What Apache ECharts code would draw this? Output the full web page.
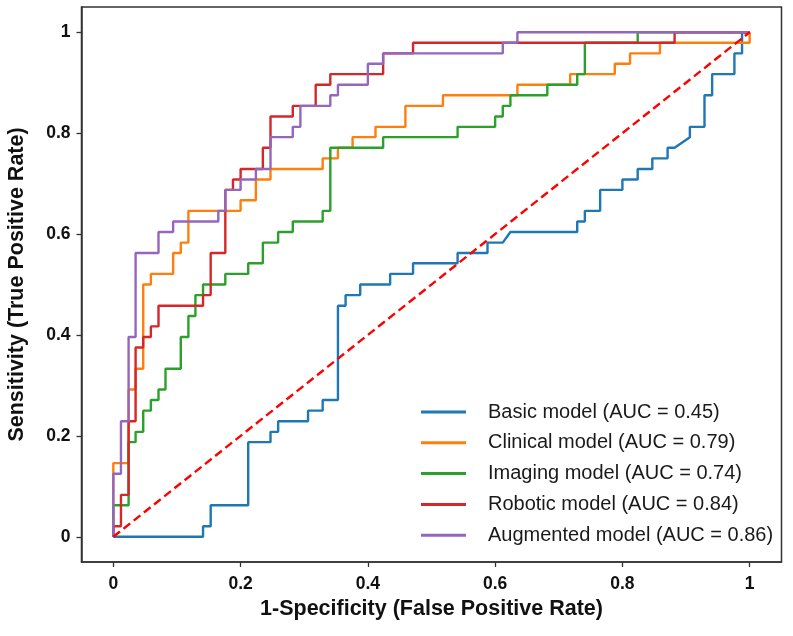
<!DOCTYPE html>
<html>
<head>
<meta charset="utf-8">
<script src="https://cdn.jsdelivr.net/npm/echarts@6/dist/echarts.min.js"></script>
<style>html,body{margin:0;padding:0;background:#fff;}#c{width:793px;height:636px;}</style>
</head>
<body>
<div id="c"></div>
<script>
const seriesNames = ['Basic model (AUC = 0.45)','Clinical model (AUC = 0.79)','Imaging model (AUC = 0.74)','Robotic model (AUC = 0.84)','Augmented model (AUC = 0.86)'];
const seriesColors = ['#1f77b4','#ff7f0e','#2ca02c','#d62728','#9467bd'];
const xTicks = [0,0.2,0.4,0.6,0.8,1];
const yTicks = [0,0.2,0.4,0.6,0.8,1];

const basicFpr = [0,0.141,0.141,0.153,0.153,0.212,0.212,0.247,0.247,0.259,0.259,0.306,0.306,0.329,0.329,0.353,0.353,0.365,0.365,0.388,0.388,0.435,0.435,0.471,0.471,0.541,0.541,0.588,0.588,0.612,0.624,0.729,0.729,0.741,0.741,0.765,0.765,0.8,0.8,0.824,0.824,0.847,0.847,0.871,0.871,0.882,0.906,0.906,0.929,0.929,0.941,0.941,0.976,0.976,0.988,0.988,1];
const basicTpr = [0,0,0.021,0.021,0.0625,0.0625,0.1875,0.1875,0.208,0.208,0.229,0.229,0.25,0.25,0.271,0.271,0.458,0.458,0.479,0.479,0.5,0.5,0.521,0.521,0.542,0.542,0.5625,0.5625,0.583,0.583,0.604,0.604,0.625,0.625,0.646,0.646,0.6875,0.6875,0.708,0.708,0.729,0.729,0.75,0.75,0.771,0.771,0.792,0.8125,0.8125,0.875,0.875,0.917,0.917,0.958,0.958,1,1];

const clinicalFpr = [0,0,0.024,0.024,0.035,0.035,0.047,0.047,0.059,0.059,0.094,0.094,0.106,0.106,0.118,0.118,0.2,0.2,0.224,0.224,0.247,0.247,0.329,0.329,0.353,0.353,0.376,0.376,0.412,0.412,0.459,0.459,0.518,0.518,0.635,0.635,0.718,0.718,0.788,0.788,0.812,0.812,0.859,0.859,1,1];
const clinicalTpr = [0,0.146,0.146,0.292,0.292,0.333,0.333,0.5,0.5,0.521,0.521,0.5625,0.5625,0.583,0.583,0.646,0.646,0.667,0.667,0.708,0.708,0.729,0.729,0.75,0.75,0.771,0.771,0.792,0.792,0.8125,0.8125,0.854,0.854,0.875,0.875,0.896,0.896,0.917,0.917,0.9375,0.9375,0.958,0.958,0.979,0.979,1];

const imagingFpr = [0,0,0.024,0.024,0.035,0.035,0.047,0.047,0.059,0.059,0.071,0.071,0.082,0.082,0.106,0.106,0.118,0.118,0.129,0.129,0.141,0.141,0.176,0.176,0.212,0.212,0.235,0.235,0.259,0.259,0.282,0.282,0.329,0.329,0.341,0.341,0.424,0.424,0.541,0.541,0.6,0.6,0.612,0.612,0.624,0.624,0.682,0.682,0.729,0.729,0.741,0.741,0.824,0.824,1];
const imagingTpr = [0,0.0625,0.0625,0.1875,0.1875,0.208,0.208,0.25,0.25,0.271,0.271,0.292,0.292,0.333,0.333,0.396,0.396,0.4375,0.4375,0.479,0.479,0.5,0.5,0.521,0.521,0.542,0.542,0.583,0.583,0.604,0.604,0.625,0.625,0.646,0.646,0.771,0.771,0.792,0.792,0.8125,0.8125,0.833,0.833,0.854,0.854,0.875,0.875,0.896,0.896,0.917,0.917,0.979,0.979,1,1];

const roboticFpr = [0,0,0.012,0.012,0.024,0.024,0.035,0.035,0.047,0.047,0.059,0.059,0.071,0.071,0.141,0.141,0.153,0.153,0.176,0.176,0.188,0.188,0.2,0.2,0.235,0.235,0.247,0.247,0.282,0.282,0.318,0.318,0.341,0.341,0.424,0.424,0.471,0.471,0.882,0.882,1];
const roboticTpr = [0,0.021,0.021,0.083,0.083,0.229,0.229,0.375,0.375,0.396,0.396,0.417,0.417,0.458,0.458,0.479,0.479,0.5625,0.5625,0.6875,0.6875,0.708,0.708,0.729,0.729,0.771,0.771,0.833,0.833,0.854,0.854,0.896,0.896,0.917,0.917,0.958,0.958,0.979,0.979,1,1];

const augmentedFpr = [0,0,0.012,0.012,0.024,0.024,0.035,0.035,0.071,0.071,0.094,0.094,0.165,0.165,0.176,0.176,0.2,0.2,0.224,0.224,0.247,0.247,0.282,0.282,0.294,0.294,0.341,0.341,0.353,0.353,0.4,0.4,0.424,0.424,0.612,0.612,0.635,0.635,1];
const augmentedTpr = [0,0.125,0.125,0.229,0.229,0.396,0.396,0.5625,0.5625,0.604,0.604,0.625,0.625,0.646,0.646,0.6875,0.6875,0.708,0.708,0.729,0.729,0.792,0.792,0.8125,0.8125,0.854,0.854,0.875,0.875,0.896,0.896,0.9375,0.9375,0.958,0.958,0.979,0.979,1,1];

const diagX = [0,1];
const diagY = [0,1];

const curves = [
  [basicFpr, basicTpr],
  [clinicalFpr, clinicalTpr],
  [imagingFpr, imagingTpr],
  [roboticFpr, roboticTpr],
  [augmentedFpr, augmentedTpr]
];
const zip = (a,b) => a.map((v,i) => [v, b[i]]);

const FONT = '"Liberation Sans", Arial, Helvetica, sans-serif';
const fmt = v => (Math.abs(v) < 1e-9 ? '0' : (Math.abs(v-1) < 1e-9 ? '1' : String(+v.toFixed(1))));

const series = curves.map((c,i) => ({
  name: seriesNames[i],
  type: 'line',
  data: zip(c[0], c[1]),
  symbol: 'none',
  lineStyle: {width: 2.4, color: seriesColors[i]},
  itemStyle: {color: seriesColors[i]},
  emphasis: {disabled: true},
  animation: false
}));
series.push({
  name: 'diag',
  type: 'line',
  data: zip(diagX, diagY),
  symbol: 'none',
  lineStyle: {width: 2.4, color: '#ff0000', type: [8.5, 4.5]},
  emphasis: {disabled: true},
  animation: false
});

const chart = echarts.init(document.getElementById('c'), null, {renderer: 'canvas'});
chart.setOption({
  animation: false,
  backgroundColor: '#fff',
  grid: {left: 81.5, right: 11.5, top: 7, bottom: 74, show: true, borderColor: '#333', borderWidth: 1.5, backgroundColor: 'transparent', containLabel: false, outerBoundsMode: 'none'},
  xAxis: {
    type: 'value', min: -0.05, max: 1.05,
    name: '1-Specificity (False Positive Rate)', nameLocation: 'middle', nameGap: 35,
    nameTextStyle: {fontFamily: FONT, fontWeight: 'bold', fontSize: 21.5, color: '#111'},
    axisLine: {show: true, onZero: false, lineStyle: {color: '#333', width: 1.5}},
    axisTick: {show: true, length: 5, lineStyle: {color: '#333', width: 1.3}, customValues: xTicks},
    axisLabel: {fontFamily: FONT, fontWeight: 'bold', fontSize: 17.5, color: '#111', margin: 13.5, customValues: xTicks, formatter: fmt},
    splitLine: {show: false}
  },
  yAxis: {
    type: 'value', min: -0.05, max: 1.05,
    name: 'Sensitivity (True Positive Rate)', nameLocation: 'middle', nameGap: 53, nameRotate: 90,
    nameTextStyle: {fontFamily: FONT, fontWeight: 'bold', fontSize: 21.5, color: '#111'},
    axisLine: {show: true, onZero: false, lineStyle: {color: '#333', width: 1.5}},
    axisTick: {show: true, length: 5, lineStyle: {color: '#333', width: 1.3}, customValues: yTicks},
    axisLabel: {fontFamily: FONT, fontWeight: 'bold', fontSize: 17.5, color: '#111', margin: 11, customValues: yTicks, formatter: fmt},
    splitLine: {show: false}
  },
  legend: {
    data: seriesNames.map((n,i) => ({name: n, icon: 'rect', itemStyle: {color: seriesColors[i]}})),
    orient: 'vertical', left: 421, top: 400, padding: 0,
    itemWidth: 45, itemHeight: 3, itemGap: 6.8,
    textStyle: {fontFamily: FONT, fontSize: 20, color: '#1a1a1a', lineHeight: 24, padding: [0,0,0,17]},
    selectedMode: false
  },
  series: series
});
</script>
</body>
</html>
